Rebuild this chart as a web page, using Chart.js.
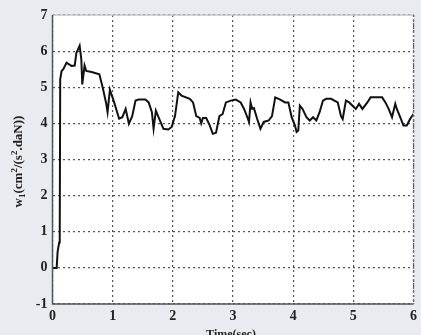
<!DOCTYPE html>
<html>
<head>
<meta charset="utf-8">
<style>
  html, body { margin: 0; padding: 0; background: #e8ecf0; }
  #wrap { width: 421px; height: 335px; }
</style>
<script src="https://cdn.jsdelivr.net/npm/chart.js@4.4.0/dist/chart.umd.min.js"></script>
</head>
<body>
<div id="wrap"><canvas id="c" width="421" height="335"></canvas></div>
<script>
// Response w1 over time (s)
const timeSec = [
  0, 0.069, 0.085, 0.111, 0.12, 0.128, 0.151, 0.18, 0.233, 0.315, 0.369, 0.397, 0.451, 0.479, 0.495,
  0.533, 0.561, 0.65, 0.779, 0.833, 0.889, 0.915, 0.954, 1.025, 1.107, 1.161, 1.216, 1.270, 1.325, 1.380,
  1.434, 1.544, 1.598, 1.652, 1.680, 1.718, 1.762, 1.844, 1.926, 1.980, 2.036, 2.090, 2.144, 2.282,
  2.336, 2.390, 2.446, 2.472, 2.500, 2.554, 2.610, 2.664, 2.718, 2.774, 2.828, 2.882, 2.964, 3.046,
  3.128, 3.184, 3.238, 3.266, 3.292, 3.320, 3.348, 3.402, 3.456, 3.511, 3.593, 3.648, 3.702, 3.784,
  3.866, 3.921, 3.975, 4.030, 4.057, 4.085, 4.111, 4.156, 4.221, 4.275, 4.331, 4.385, 4.439, 4.495,
  4.549, 4.631, 4.685, 4.741, 4.795, 4.823, 4.877, 4.931, 4.987, 5.041, 5.095, 5.151, 5.233, 5.287,
  5.397, 5.479, 5.533, 5.587, 5.643, 5.697, 5.723, 5.779, 5.833, 5.889, 5.943, 6.0
];
const w1 = [
  0, 0, 0.45, 0.7, 0.72, 5.22, 5.45, 5.5, 5.68, 5.59, 5.6, 5.95, 6.15, 5.77, 5.08,
  5.6, 5.45, 5.42, 5.36, 5.0, 4.58, 4.31, 4.93, 4.58, 4.13, 4.17, 4.4, 3.99, 4.2, 4.63,
  4.66, 4.66, 4.58, 4.31, 3.85, 4.35, 4.17, 3.85, 3.83, 3.9, 4.2, 4.86, 4.77, 4.68,
  4.58, 4.2, 4.15, 4.0, 4.15, 4.15, 3.96, 3.71, 3.74, 4.2, 4.26, 4.58, 4.63, 4.66,
  4.58, 4.4, 4.17, 4.04, 4.58, 4.4, 4.42, 4.12, 3.85, 4.04, 4.08, 4.2, 4.72, 4.66,
  4.58, 4.58, 4.17, 3.94, 3.76, 3.8, 4.49, 4.4, 4.17, 4.08, 4.17, 4.08, 4.31, 4.63,
  4.68, 4.68, 4.63, 4.58, 4.2, 4.12, 4.63, 4.58, 4.49, 4.4, 4.54, 4.4, 4.58, 4.72,
  4.72, 4.72, 4.58, 4.4, 4.17, 4.54, 4.4, 4.17, 3.94, 3.94, 4.12, 4.26
];
const xTicks = [0, 1, 2, 3, 4, 5, 6];
const yTicks = [-1, 0, 1, 2, 3, 4, 5, 6, 7];
const xTitle = 'Time(sec)';
// y title pieces: [text, kind] where kind is 'n' normal, 'sub', 'sup'
const yTitleParts = [['w', 'n'], ['1', 'sub'], ['(cm', 'n'], ['2', 'sup'], ['/(s', 'n'], ['2', 'sup'], ['.daN))', 'n']];

const points = timeSec.map((t, i) => ({ x: t, y: w1[i] }));
const serif = '"Liberation Serif", "DejaVu Serif", serif';

const framePlugin = {
  id: 'frame',
  beforeDraw(chart) {
    const { ctx, chartArea: a } = chart;
    ctx.save();
    ctx.fillStyle = '#e8ecf0';
    ctx.fillRect(0, 0, chart.width, chart.height);
    ctx.fillStyle = '#ffffff';
    ctx.fillRect(a.left, a.top, a.right - a.left, a.bottom - a.top);
    ctx.restore();
  },
  afterDraw(chart) {
    const { ctx, chartArea: a } = chart;
    ctx.save();
    // frame
    ctx.lineWidth = 1.5;
    ctx.strokeStyle = '#c4c8cc';
    ctx.beginPath();
    ctx.moveTo(a.left, a.top); ctx.lineTo(a.right, a.top);
    ctx.stroke();
    ctx.strokeStyle = '#555';
    ctx.beginPath();
    ctx.moveTo(a.left, a.top); ctx.lineTo(a.left, a.bottom); ctx.lineTo(a.right, a.bottom);
    ctx.stroke();
    ctx.strokeStyle = '#777';
    ctx.setLineDash([2, 2]);
    ctx.beginPath();
    ctx.moveTo(a.right, a.top); ctx.lineTo(a.right, a.bottom);
    ctx.stroke();
    ctx.setLineDash([]);

    // x title
    ctx.fillStyle = '#222';
    ctx.font = 'bold 12px ' + serif;
    ctx.textAlign = 'center';
    ctx.textBaseline = 'alphabetic';
    ctx.fillText(xTitle, (a.left + a.right) / 2 - 2, 338);

    // y title, rotated, with sub/superscripts
    const base = 13, small = 9;
    const widths = yTitleParts.map(([t, k]) => {
      ctx.font = 'bold ' + (k === 'n' ? base : small) + 'px ' + serif;
      return ctx.measureText(t).width;
    });
    const total = widths.reduce((s, v) => s + v, 0);
    ctx.translate(18, (a.top + a.bottom) / 2 + 2);
    ctx.rotate(-Math.PI / 2);
    let x = -total / 2;
    ctx.textAlign = 'left';
    yTitleParts.forEach(([t, k], i) => {
      ctx.font = 'bold ' + (k === 'n' ? base : small) + 'px ' + serif;
      const dy = k === 'sub' ? 3 : (k === 'sup' ? -5 : 0);
      ctx.fillText(t, x, 4 + dy);
      x += widths[i];
    });
    ctx.restore();
  }
};

new Chart(document.getElementById('c'), {
  type: 'scatter',
  data: {
    datasets: [{
      data: points,
      showLine: true,
      borderColor: '#111',
      borderWidth: 2,
      pointRadius: 0,
      tension: 0,
      fill: false
    }]
  },
  options: {
    responsive: false,
    animation: false,
    devicePixelRatio: 1,
    layout: { padding: { top: 15, right: 3, left: 0, bottom: 0 } },
    plugins: { legend: { display: false }, tooltip: { enabled: false } },
    scales: {
      x: {
        type: 'linear',
        min: 0, max: 6,
        afterFit(s) { s.height = 31; },
        afterBuildTicks(s) { s.ticks = xTicks.map(v => ({ value: v })); },
        ticks: { color: '#222', font: { family: serif, size: 14, weight: 'bold' }, padding: 4 },
        grid: { color: '#555', lineWidth: 1.2, drawTicks: false },
        border: { display: false, dash: [2, 3] }
      },
      y: {
        min: -1, max: 7,
        afterFit(s) { s.width = 52.5; },
        afterBuildTicks(s) { s.ticks = yTicks.map(v => ({ value: v })); },
        ticks: { color: '#222', font: { family: serif, size: 14, weight: 'bold' }, padding: 5 },
        grid: { color: '#555', lineWidth: 1.2, drawTicks: false },
        border: { display: false, dash: [2, 3] }
      }
    }
  },
  plugins: [framePlugin]
});
</script>
</body>
</html>
